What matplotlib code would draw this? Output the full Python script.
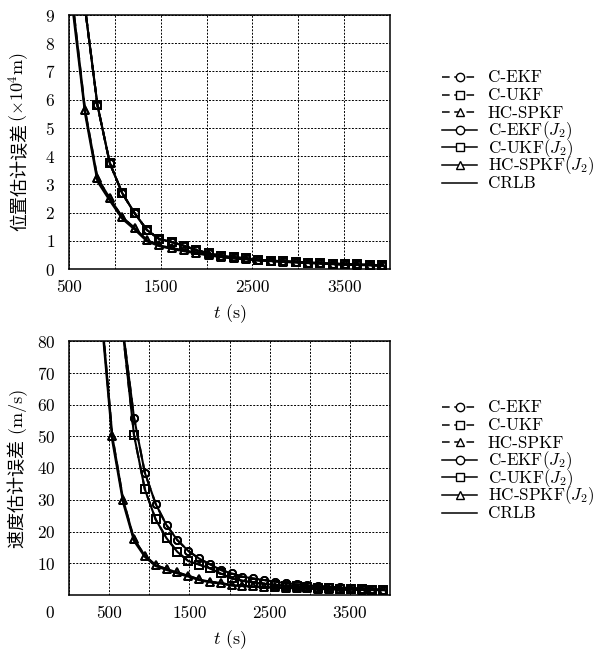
import matplotlib
matplotlib.use("Agg")
import matplotlib.pyplot as plt
from matplotlib.lines import Line2D

plt.rcParams['font.family'] = ['cmr10', 'Noto Sans CJK SC', 'DejaVu Sans']
plt.rcParams['mathtext.fontset'] = 'cm'
plt.rcParams['axes.formatter.use_mathtext'] = True
plt.rcParams['axes.unicode_minus'] = False

# sample times (s)
t = [405, 540, 675, 810, 945, 1080, 1215, 1350, 1485, 1620, 1755, 1890, 2025, 2160,
     2295, 2430, 2565, 2700, 2835, 2970, 3105, 3240, 3375, 3510, 3645, 3780, 3915]

# position error (x1e4 m)
pos_slow = [30, 14, 9.25, 5.81, 3.75, 2.69, 1.98, 1.38, 1.06, 0.96, 0.82, 0.67, 0.55, 0.47,
            0.41, 0.38, 0.32, 0.30, 0.27, 0.25, 0.23, 0.21, 0.19, 0.17, 0.16, 0.15, 0.13]
pos_fast = [20, 9.45, 5.63, 3.22, 2.51, 1.84, 1.45, 1.02, 0.84, 0.74, 0.66, 0.57, 0.50, 0.44,
            0.39, 0.36, 0.31, 0.29, 0.26, 0.24, 0.22, 0.20, 0.18, 0.16, 0.15, 0.14, 0.12]
pos_crlb = [19, 9.2, 5.5, 3.1, 2.42, 1.78, 1.40, 0.98, 0.81, 0.71, 0.63, 0.55, 0.48, 0.42,
            0.37, 0.34, 0.30, 0.28, 0.25, 0.23, 0.21, 0.19, 0.17, 0.15, 0.14, 0.13, 0.11]

# velocity error (m/s)
vel_ekf = [200, 130, 83, 55.9, 38.5, 28.7, 22.0, 17.3, 13.9, 11.5, 9.7, 7.9, 6.8, 5.8,
           5.2, 4.7, 4.2, 3.7, 3.4, 3.1, 2.8, 2.6, 2.4, 2.2, 2.0, 1.8, 1.65]
vel_ukf = [200, 130, 82, 50.4, 33.3, 23.8, 17.9, 13.6, 10.7, 9.6, 8.4, 6.8, 5.2, 4.5,
           3.9, 3.5, 3.2, 2.9, 2.7, 2.5, 2.3, 2.2, 2.0, 1.9, 1.8, 1.7, 1.6]
vel_spkf = [89, 50, 30, 17.6, 12.4, 9.4, 8.2, 7.1, 6.1, 4.9, 4.2, 3.8, 3.1, 2.9,
            2.7, 2.5, 2.4, 2.3, 2.2, 2.1, 2.0, 1.9, 1.8, 1.75, 1.7, 1.65, 1.6]
vel_crlb = [87, 48.5, 29, 17.0, 12.0, 9.1, 7.9, 6.8, 5.8, 4.7, 4.0, 3.6, 3.0, 2.8,
            2.6, 2.4, 2.3, 2.2, 2.1, 2.0, 1.9, 1.8, 1.7, 1.65, 1.6, 1.55, 1.5]

names = ['C-EKF', 'C-UKF', 'HC-SPKF', 'C-EKF($J_2$)', 'C-UKF($J_2$)', 'HC-SPKF($J_2$)', 'CRLB']
pos_series = [pos_slow, pos_slow, pos_fast, pos_slow, pos_slow, pos_fast, pos_crlb]
vel_series = [vel_ekf, vel_ukf, vel_spkf, vel_ekf, vel_ukf, vel_spkf, vel_crlb]
markers = ['o', 's', '^', 'o', 's', '^', None]
styles = [(0, (5, 3)), (0, (5, 3)), (0, (5, 3)), '-', '-', '-', '-']

W, H = 604, 650
fig = plt.figure(figsize=(W / 100, H / 100), dpi=100)
ax1 = fig.add_axes([69 / W, 1 - 269 / H, 321 / W, 254 / H])
ax2 = fig.add_axes([69 / W, 1 - 595 / H, 321 / W, 254 / H])


def draw(ax, series):
    for name, y, m, ls in zip(names, series, markers, styles):
        ax.plot(t, y, color='black', linestyle=ls, linewidth=1.5,
                marker=m, markersize=5.2, markerfacecolor='none',
                markeredgecolor='black', markeredgewidth=1.3)
    ax.grid(True, color='black', linestyle=(0, (2, 1.5)), linewidth=0.7)
    ax.tick_params(length=0, labelsize=12.5)
    ax.tick_params(axis='y', pad=10)
    ax.tick_params(axis='x', pad=8)
    for s in ax.spines.values():
        s.set_linewidth(1.1)


def legend(top_px):
    for i, (name, m, ls) in enumerate(zip(names, markers, styles)):
        y = 1 - (top_px + 17.6 * i) / H
        fig.add_artist(Line2D([442 / W, 477 / W], [y, y], transform=fig.transFigure,
                              color='black', linestyle=ls, linewidth=1.1))
        if m:
            fig.add_artist(Line2D([459.5 / W], [y], transform=fig.transFigure,
                                  marker=m, markersize=6, markerfacecolor='white',
                                  markeredgecolor='black', markeredgewidth=1.0))
        fig.text(488 / W, y - 5.5 / H, name, fontsize=12.3, ha='left', va='baseline')


draw(ax1, pos_series)
ax1.set_xlim(500, 4000)
ax1.set_ylim(0, 9)
ax1.set_xticks(range(500, 4001, 500))
ax1.set_xticklabels(['500', '', '1500', '', '2500', '', '3500', ''])
ax1.set_yticks(range(0, 10))
ax1.set_xlabel('$t$ (s)', fontsize=13, labelpad=5)
fig.text(25 / W, 1 - 231 / H, '位置估计误差', fontsize=13, rotation=90,
         rotation_mode='anchor', ha='left', va='baseline')
fig.text(25 / W, 1 - 122 / H, '($\\times10^4$m)', fontsize=13, rotation=90,
         rotation_mode='anchor', ha='left', va='baseline')

draw(ax2, vel_series)
ax2.set_xlim(0, 4000)
ax2.set_ylim(0, 80)
ax2.set_xticks(range(0, 4001, 500))
ax2.set_xticklabels(['', '500', '', '1500', '', '2500', '', '3500', ''])
ax2.set_yticks(range(10, 81, 10))
ax2.set_xlabel('$t$ (s)', fontsize=13, labelpad=5)
ax2.set_ylabel('速度估计误差 (m/s)', fontsize=13)
ax2.yaxis.set_label_coords(-0.128, 0.5)
ax2.annotate('0', xy=(0, 0), xycoords='axes fraction', xytext=(-11, -13),
             textcoords='offset points', ha='right', va='center', fontsize=12.5)

legend(77)
legend(407)

fig.savefig('out.png', dpi=100)
